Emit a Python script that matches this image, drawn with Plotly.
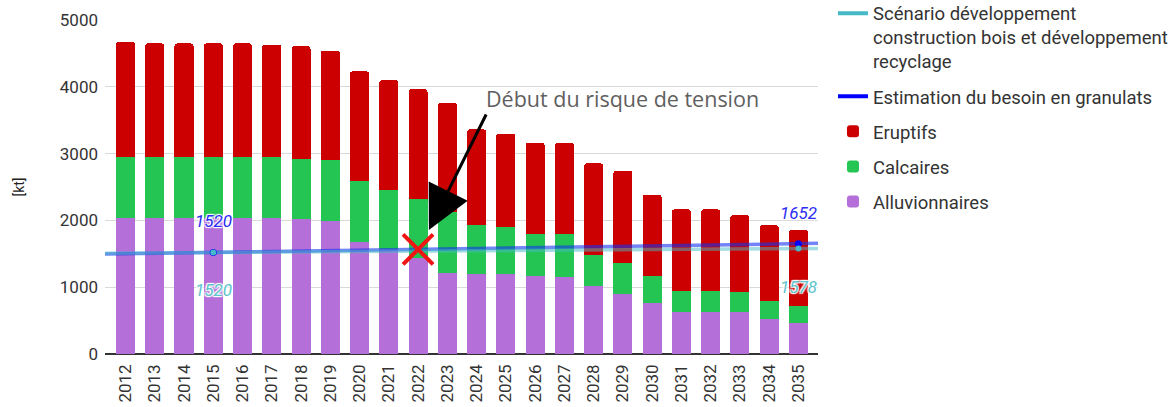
import numpy as np
import plotly.graph_objects as go

# ---------------- data ----------------
years = list(range(2012, 2036))
alluvionnaires = [2036, 2036, 2036, 2036, 2036, 2036, 2016, 1991, 1681, 1570, 1440, 1213,
                  1193, 1193, 1173, 1148, 1013, 903, 768, 634, 634, 634, 524, 459]
calcaires = [908, 908, 908, 908, 908, 908, 908, 908, 909, 890, 885, 913,
             733, 708, 619, 644, 464, 464, 400, 314, 314, 289, 265, 264]
eruptifs = [1731, 1706, 1706, 1706, 1706, 1686, 1682, 1641, 1642, 1637, 1637, 1636,
            1437, 1397, 1371, 1371, 1377, 1377, 1217, 1218, 1218, 1158, 1137, 1133]

besoin_years = [2015, 2035]
besoin_values = [1520, 1652]          # Estimation du besoin en granulats
scenario_years = [2015, 2035]
scenario_values = [1520, 1578]        # Scénario bois + recyclage

tension_year = 2022
y_ticks = [0, 1000, 2000, 3000, 4000, 5000]

# ---------------- styles ----------------
C_ALLU = "#b470d8"
C_CALC = "#25c553"
C_ERUP = "#cc0000"
C_BESOIN = "#0000ff"
C_SCEN = "#45b9c7"
FONT = "Roboto, Arial, sans-serif"
X_RANGE = [2011.30, 2035.67]

fig = go.Figure()

for name, vals, col, rank in [("Alluvionnaires", alluvionnaires, C_ALLU, 5),
                              ("Calcaires", calcaires, C_CALC, 4),
                              ("Eruptifs", eruptifs, C_ERUP, 3)]:
    fig.add_trace(go.Bar(x=years, y=vals, name=name, marker_color=col,
                         marker_line_width=0, legendrank=rank, legendgroup=name))


def trend(xs, ys):
    a, b = np.polyfit(xs, ys, 1)
    return a, b


# linear trend lines through the series points, drawn across the full plot width
for name, xs, ys, col, rank, rgba in [
        ("Estimation du besoin en granulats", besoin_years, besoin_values, C_BESOIN,
         2, "rgba(20,50,240,0.6)"),
        ("Scénario développement<br>construction bois et développement<br>recyclage",
         scenario_years, scenario_values, C_SCEN, 1, "rgba(69,185,199,0.5)")]:
    a, b = trend(xs, ys)
    fig.add_trace(go.Scatter(x=X_RANGE, y=[a * X_RANGE[0] + b, a * X_RANGE[1] + b],
                             mode="lines", line=dict(color=rgba, width=3.5),
                             showlegend=False, hoverinfo="skip"))
    # legend entry
    fig.add_trace(go.Scatter(x=[None], y=[None], mode="lines", name=name,
                             line=dict(color=col, width=4), legendrank=rank,
                             legendgroup=name))

# markers on data points (scenario drawn last so it sits on top)
for xs, ys, col, msize in [(besoin_years, besoin_values, C_BESOIN, 7),
                           (scenario_years, scenario_values, C_SCEN, 6)]:
    fig.add_trace(go.Scatter(x=xs, y=ys, mode="markers", showlegend=False,
                             marker=dict(color=col, size=msize)))

# data labels
HALO = "1px 1px 1px #fff, -1px -1px 1px #fff, 1px -1px 1px #fff, -1px 1px 1px #fff"
for xs, ys, col, shift in [(besoin_years, besoin_values, "#2b2bf5", 31),
                           (scenario_years, scenario_values, "#5cc4cc", -38)]:
    for xv, yv in zip(xs, ys):
        fig.add_annotation(x=xv, y=yv, text=str(yv), showarrow=False, yshift=shift,
                           font=dict(family=FONT, size=17, color=col, style="italic",
                                     shadow=HALO))

# red cross at the start of tension (on the need trend line)
a_b, b_b = trend(besoin_years, besoin_values)
fig.add_trace(go.Scatter(x=[tension_year], y=[a_b * tension_year + b_b], mode="markers",
                         showlegend=False,
                         marker=dict(symbol="x-thin", size=30,
                                     line=dict(color="#f01414", width=4))))

# arrow + text
fig.add_annotation(x=tension_year + 0.37, y=a_b * tension_year + b_b + 290,
                   ax=58, ay=-117, text="", showarrow=True,
                   arrowhead=2, arrowsize=2.9, arrowwidth=3, arrowcolor="#000")
fig.add_annotation(x=2028.98, y=3830, text="Début du risque de tension", showarrow=False,
                   font=dict(family="Open Sans, sans-serif", size=21.5, color="#5f5f5f"))

fig.update_layout(
    width=1172, height=407,
    margin=dict(l=105, r=354, t=20, b=53, autoexpand=False),
    barmode="stack", bargap=0.35, barcornerradius=3,
    plot_bgcolor="#fff", paper_bgcolor="#fff",
    font=dict(family=FONT, size=17, color="#333"),
    legend=dict(x=1.021, y=1.076, xanchor="left", yanchor="top", maxheight=1,
                traceorder="grouped", tracegroupgap=8, valign="top",
                bgcolor="rgba(255,255,255,0)",
                font=dict(family=FONT, size=18.5, color="#333")),
    xaxis=dict(range=X_RANGE, tickmode="array", tickvals=years,
               ticktext=[str(y) for y in years], tickangle=-90,
               showgrid=False, zeroline=False, showline=False, ticks="",
               ticklabelstandoff=6,
               tickfont=dict(size=17, color="#333")),
    yaxis=dict(range=[0, 5000], tickvals=y_ticks, showgrid=True, gridcolor="#d9d9d9",
               gridwidth=1, zeroline=True, zerolinecolor="#333", zerolinewidth=1.5,
               showline=False, ticks="", ticklabelstandoff=6,
               tickfont=dict(size=17, color="#333"),
               title=dict(text="[kt]", font=dict(size=14, color="#222"), standoff=31)),
)

fig.write_html("out.html", config={"displayModeBar": False},
               post_script="document.body.style.margin='0';")
